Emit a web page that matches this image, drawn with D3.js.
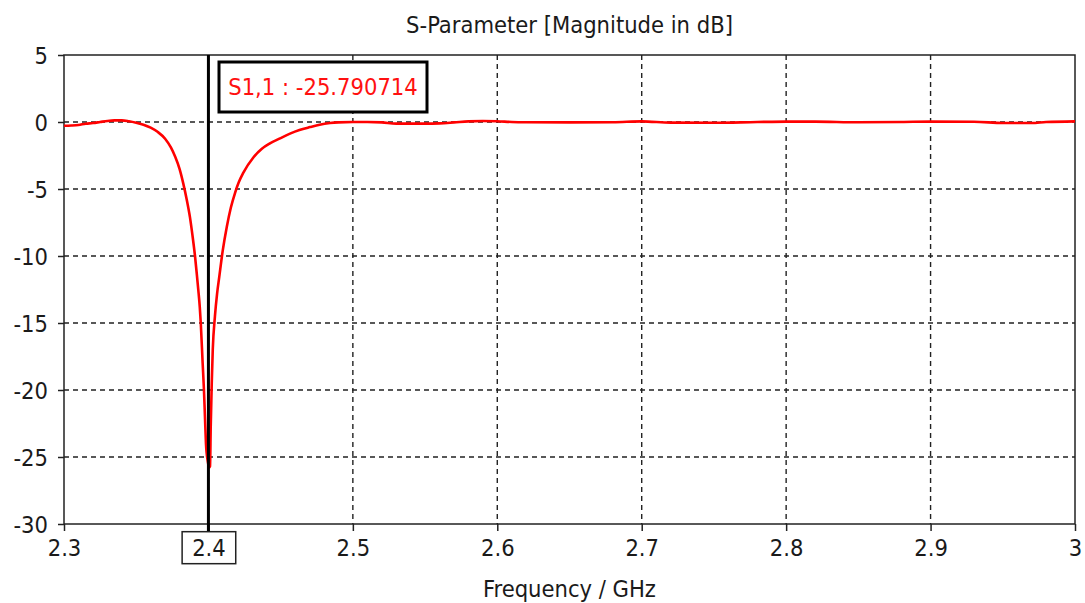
<!DOCTYPE html>
<html>
<head>
<meta charset="utf-8">
<script src="https://cdn.jsdelivr.net/npm/d3@7/dist/d3.min.js"></script>
<style>
	body { margin: 0; background: #fff; }
	text { font-family: "DejaVu Sans Condensed", "DejaVu Sans", sans-serif; font-stretch: condensed; }
</style>
</head>
<body>
<svg id="chart" width="1085" height="603"></svg>
<script>
// S1,1 magnitude
const freq = [2.300, 2.305, 2.310, 2.315, 2.320, 2.325, 2.330, 2.335, 2.340, 2.345, 2.350, 2.355, 2.360, 2.365, 2.370,
	2.374, 2.377, 2.380, 2.3826, 2.385, 2.3872, 2.389, 2.3907, 2.392, 2.393, 2.394, 2.3947, 2.396, 2.3969, 2.3976,
	2.3983, 2.3995, 2.4005, 2.4011, 2.4016, 2.4023, 2.403, 2.4045, 2.406, 2.4075, 2.4099, 2.4127, 2.4155, 2.4184,
	2.421, 2.4241, 2.4311, 2.437, 2.4426, 2.45, 2.4565, 2.463, 2.4703, 2.477, 2.4842, 2.49, 2.50, 2.51, 2.52, 2.53, 2.54,
	2.55, 2.56, 2.57, 2.58, 2.59, 2.60, 2.61, 2.62, 2.65, 2.68, 2.70, 2.72, 2.75, 2.78, 2.80, 2.82, 2.85, 2.88, 2.90,
	2.93, 2.95, 2.97, 2.98, 3.00]
const s11 = [-0.28, -0.26, -0.22, -0.13, -0.08, 0.0, 0.08, 0.12, 0.12, 0.05, -0.06, -0.2, -0.42, -0.75, -1.25,
	-1.9, -2.6, -3.5, -4.6, -5.8, -7.1, -8.5, -10.0, -11.4, -12.55, -13.8, -15.0, -18.0, -20.0, -22.0,
	-24.0, -25.3, -25.79, -25.7, -22.7, -19.5, -17.0, -14.5, -12.8, -11.56, -9.6, -7.83, -6.4, -5.3,
	-4.5, -3.8, -2.65, -2.0, -1.6, -1.2, -0.87, -0.6, -0.38, -0.2, -0.08, -0.03, 0.0, 0.0, -0.03, -0.12, -0.12,
	-0.12, -0.1, -0.03, 0.05, 0.08, 0.06, 0.0, -0.02, -0.03, -0.02, 0.05, -0.05, -0.06, 0.0, 0.03, 0.03, -0.02, 0.0, 0.03,
	0.02, -0.07, -0.08, 0.0, 0.05]
const xTicks = [2.3, 2.4, 2.5, 2.6, 2.7, 2.8, 2.9, 3.0]
const yTicks = [5, 0, -5, -10, -15, -20, -25, -30]
const markerFreq = 2.4
const markerLabel = "S1,1 : -25.790714"

const margin = { top: 55, right: 10, bottom: 79, left: 64 }
const width = 1085
const height = 603
const fontSize = "23.5px"

const svg = d3.select("#chart")
const x = d3.scaleLinear().domain([2.3, 3.0]).range([margin.left, width - margin.right])
const y = d3.scaleLinear().domain([-30, 5]).range([height - margin.bottom, margin.top])

//grid
svg.append("g")
	.selectAll("line")
	.data(xTicks.slice(1, -1))
	.join("line")
	.attr("x1", d => x(d)).attr("x2", d => x(d))
	.attr("y1", y(5)).attr("y2", y(-30))
	.attr("stroke", "#222").attr("stroke-width", 1.4).attr("stroke-dasharray", "5,4")
svg.append("g")
	.selectAll("line")
	.data(yTicks.slice(1, -1))
	.join("line")
	.attr("x1", x(2.3)).attr("x2", x(3.0))
	.attr("y1", d => y(d)).attr("y2", d => y(d))
	.attr("stroke", "#222").attr("stroke-width", 1.4).attr("stroke-dasharray", "5,4")

//axes
const xAxis = svg.append("g")
	.attr("transform", `translate(0,${y(-30)})`)
	.call(d3.axisBottom(x).tickValues(xTicks).tickSize(7).tickPadding(10).tickFormat(d3.format(".1f")))
const yAxis = svg.append("g")
	.attr("transform", `translate(${x(2.3)},0)`)
	.call(d3.axisLeft(y).tickValues(yTicks).tickSize(6).tickPadding(10).tickFormat(d => d))
xAxis.select(".domain").remove()
yAxis.select(".domain").remove()
xAxis.selectAll(".tick text").text(d => d === 3 ? "3" : d3.format(".1f")(d))
for (const axis of [xAxis, yAxis]) {
	axis.selectAll(".tick line").attr("stroke", "#222").attr("stroke-width", 1.5)
	axis.selectAll(".tick text").attr("fill", "#1a1a1a").style("font-size", fontSize)
}
yAxis.selectAll(".tick text").attr("dy", "0.36em")
xAxis.selectAll(".tick text").attr("y", 15)

svg.append("rect")
	.attr("x", x(2.3)).attr("y", y(5))
	.attr("width", x(3.0) - x(2.3)).attr("height", y(-30) - y(5))
	.attr("fill", "none").attr("stroke", "#222").attr("stroke-width", 1.5)

//curve
const line = d3.line().x((d, i) => x(freq[i])).y(d => y(d)).curve(d3.curveMonotoneX)
svg.append("path")
	.datum(s11)
	.attr("d", line)
	.attr("fill", "none")
	.attr("stroke", "#ff0000")
	.attr("stroke-width", 2.6)
	.attr("stroke-linejoin", "round")

//marker
svg.append("line")
	.attr("x1", x(markerFreq)).attr("x2", x(markerFreq))
	.attr("y1", y(5)).attr("y2", y(-30) + 7)
	.attr("stroke", "#000").attr("stroke-width", 3)

const markerTick = xAxis.selectAll(".tick").filter(d => d === markerFreq)
const bb = markerTick.select("text").node().getBBox()
markerTick.insert("rect", "text")
	.attr("x", bb.x - 10).attr("y", bb.y - 2)
	.attr("width", bb.width + 20).attr("height", bb.height + 4)
	.attr("fill", "#fff").attr("stroke", "#222").attr("stroke-width", 1.5)

const label = svg.append("g")
label.append("rect")
	.attr("x", 219).attr("y", 62)
	.attr("width", 208).attr("height", 50)
	.attr("fill", "#fff").attr("stroke", "#000").attr("stroke-width", 3)
label.append("text")
	.attr("x", 323).attr("y", 87).attr("dy", "0.36em")
	.attr("text-anchor", "middle")
	.attr("fill", "#ff1010")
	.style("font-size", fontSize)
	.text(markerLabel)

//titles
svg.append("text")
	.attr("x", (x(2.3) + x(3.0)) / 2).attr("y", 25).attr("dy", "0.36em")
	.attr("text-anchor", "middle").attr("fill", "#1a1a1a")
	.style("font-size", fontSize)
	.text("S-Parameter [Magnitude in dB]")
svg.append("text")
	.attr("x", (x(2.3) + x(3.0)) / 2).attr("y", 589).attr("dy", "0.36em")
	.attr("text-anchor", "middle").attr("fill", "#1a1a1a")
	.style("font-size", fontSize)
	.text("Frequency / GHz")
</script>
</body>
</html>
